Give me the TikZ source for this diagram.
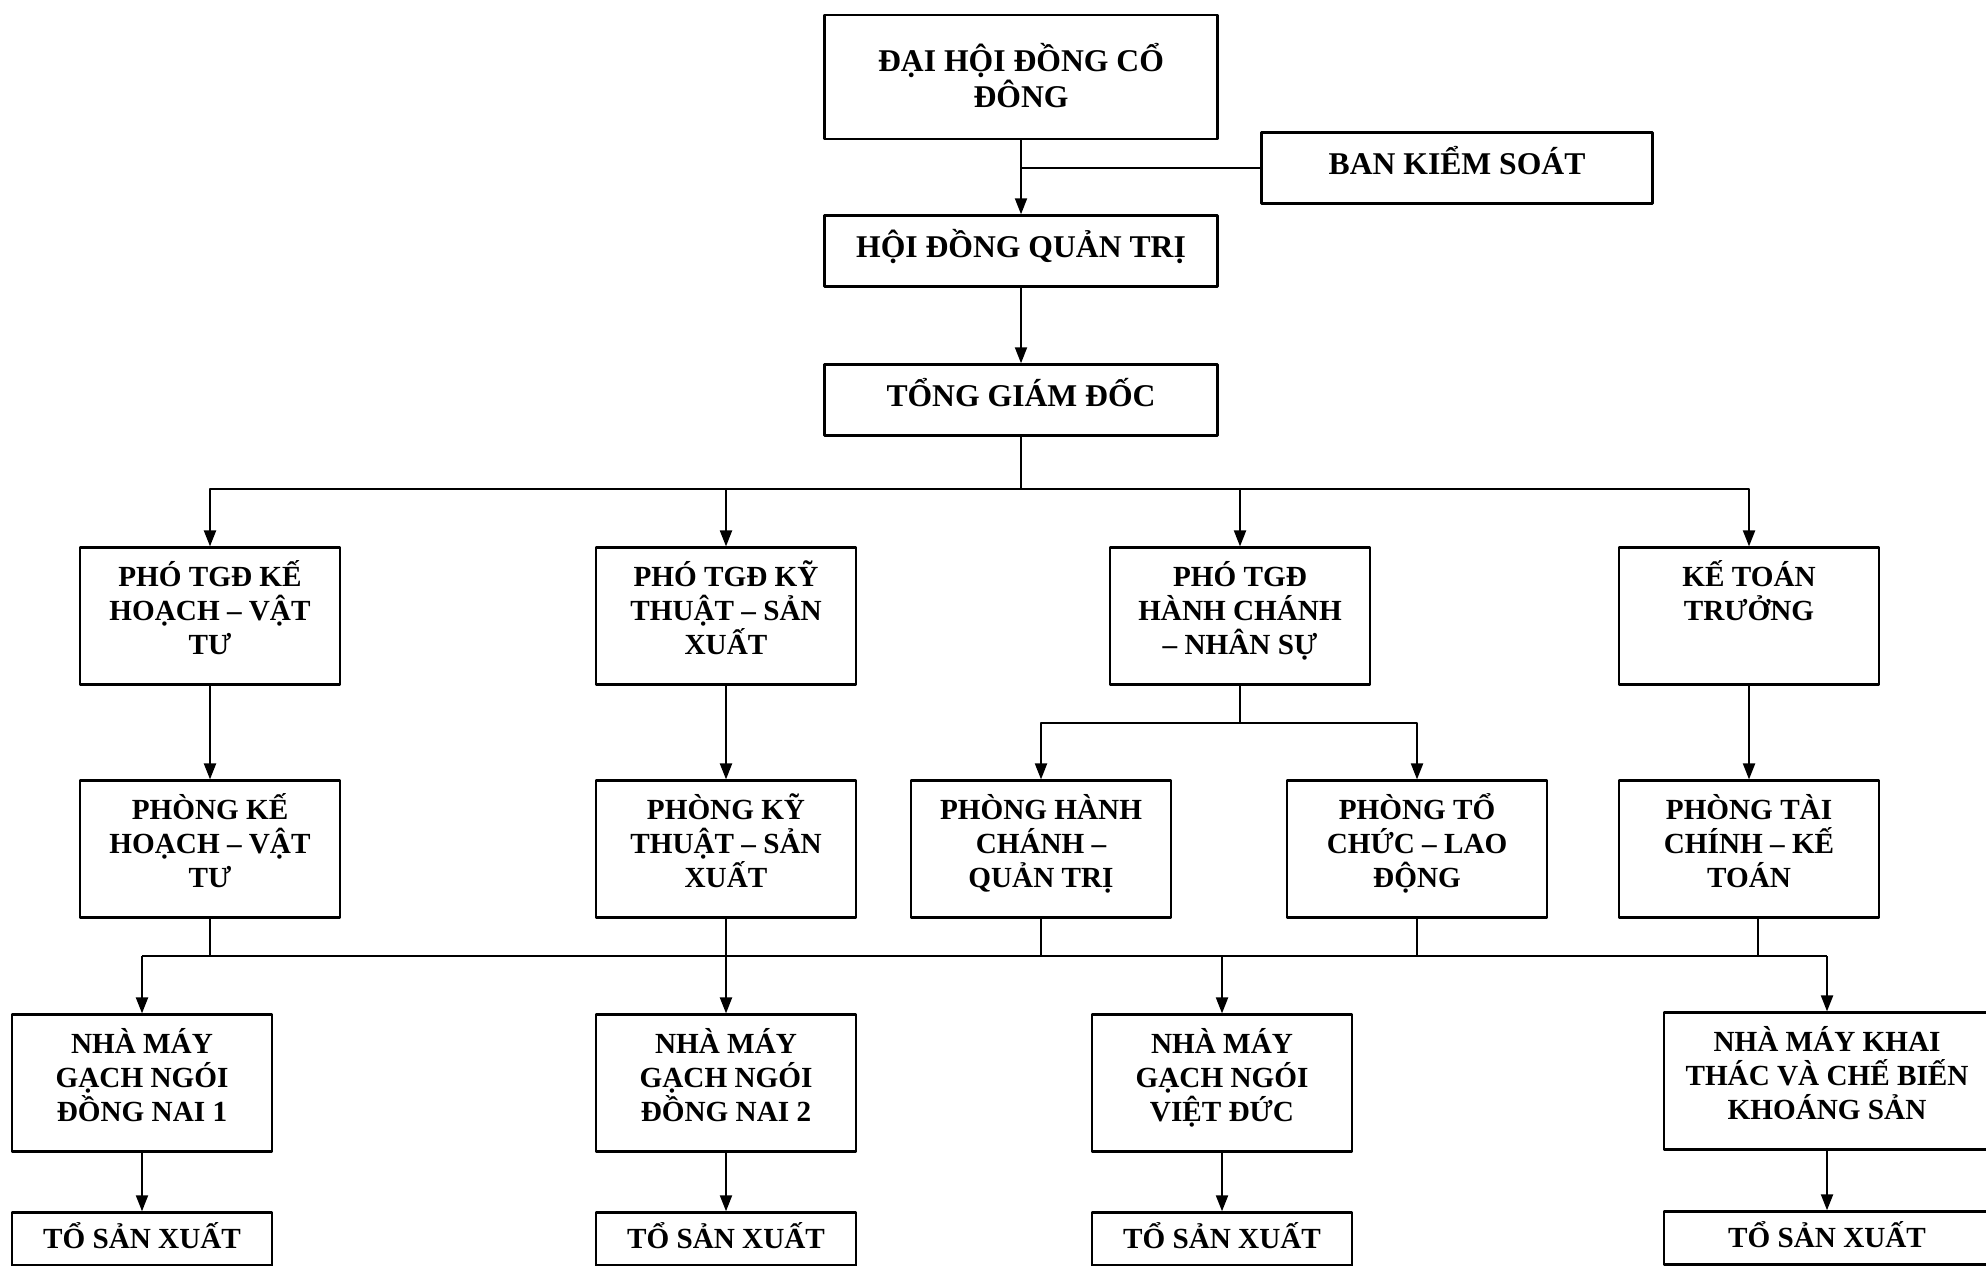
\documentclass[tikz,border=0pt]{standalone}
\usepackage{fontspec}
\setmainfont{Liberation Serif}
\usetikzlibrary{arrows.meta}
\newcommand{\tp}{\rule{0pt}{9pt}}
\newcommand{\bt}{\rule[-6.5pt]{0pt}{6.5pt}}
\begin{document}
\begin{tikzpicture}[x=0.01cm, y=-0.01cm, font=\bfseries\fontsize{8.3}{9.7}\selectfont, line join=round, semithick, >={Triangle[length=1.6mm,width=1.2mm]},
	unit/.style={draw, line width=0.7pt, align=center, inner sep=2pt, minimum width=2.6cm},
	top/.style={unit, font=\bfseries\fontsize{9}{10.4}\selectfont, minimum width=3.93cm, minimum height=0.71cm},
	head/.style={top, text height=6.3pt, text depth=2.7pt},
	tall/.style={unit, minimum height=1.35cm},
	team/.style={unit, minimum height=0.53cm, text height=6.5pt, text depth=1pt}]
			\useasboundingbox (0,0) rectangle (1986,1265);
			\node[top, minimum height=1.24cm] (dhcd) at (1021,77) {\rule{0pt}{9.5pt}ĐẠI HỘI ĐỒNG CỔ\\ĐÔNG\rule[-2.4pt]{0pt}{2.4pt}};
			\node[head, minimum width=3.91cm] (bks) at (1457,168) {BAN KIỂM SOÁT};
			\node[head] (hdqt) at (1021,251) {HỘI ĐỒNG QUẢN TRỊ};
			\node[head] (tgd) at (1021,400) {TỔNG GIÁM ĐỐC};
			\node[tall] (ptkh) at (210,616) {\tp PHÓ TGĐ KẾ\\HOẠCH – VẬT\\TƯ\bt};
			\node[tall] (ptkt) at (726,616) {\tp PHÓ TGĐ KỸ\\THUẬT – SẢN\\XUẤT\bt};
			\node[tall] (pths) at (1240,616) {\tp PHÓ TGĐ\\HÀNH CHÁNH\\– NHÂN SỰ\bt};
			\node[tall] (ktt) at (1749,616) {\tp KẾ TOÁN\\TRƯỞNG\\\bt};
			\node[tall] (pkh) at (210,849) {\tp PHÒNG KẾ\\HOẠCH – VẬT\\TƯ\bt};
			\node[tall] (pkt) at (726,849) {\tp PHÒNG KỸ\\THUẬT – SẢN\\XUẤT\bt};
			\node[tall] (phc) at (1041,849) {\tp PHÒNG HÀNH\\CHÁNH –\\QUẢN TRỊ\bt};
			\node[tall] (ptc) at (1417,849) {\tp PHÒNG TỔ\\CHỨC – LAO\\ĐỘNG\bt};
			\node[tall] (ptk) at (1749,849) {\tp PHÒNG TÀI\\CHÍNH – KẾ\\TOÁN\bt};
			\node[tall] (nm1) at (142,1083) {\tp NHÀ MÁY\\GẠCH NGÓI\\ĐỒNG NAI 1\bt};
			\node[tall] (nm2) at (726,1083) {\tp NHÀ MÁY\\GẠCH NGÓI\\ĐỒNG NAI 2\bt};
			\node[tall] (nm3) at (1222,1083) {\tp NHÀ MÁY\\GẠCH NGÓI\\VIỆT ĐỨC\bt};
			\node[tall, minimum width=3.26cm] (nm4) at (1827,1081) {\tp NHÀ MÁY KHAI\\THÁC VÀ CHẾ BIẾN\\KHOÁNG SẢN\bt};
			\node[team] (sx1) at (142,1239) {TỔ SẢN XUẤT};
			\node[team] (sx2) at (726,1239) {TỔ SẢN XUẤT};
			\node[team] (sx3) at (1222,1239) {TỔ SẢN XUẤT};
			\node[team, minimum width=3.26cm] (sx4) at (1827,1238) {TỔ SẢN XUẤT};
			\coordinate (fork) at (1021,489);
			\coordinate (hcns) at (1240,723);
			\coordinate (bus) at (0,956);
			\draw[->] (dhcd.south) -- (hdqt.north);
			\draw (bks.west) -- (bks.west -| dhcd.south);
			\draw[->] (hdqt.south) -- (tgd.north);
			\draw (tgd.south) -- (fork);
			\foreach \n in {ptkh,ptkt,pths,ktt} \draw[->] (fork) -| (\n.north);
			\draw[->] (ptkh.south) -- (pkh.north);
			\draw[->] (ptkt.south) -- (pkt.north);
			\draw[->] (ktt.south) -- (ptk.north);
			\draw (pths.south) -- (hcns);
			\foreach \n in {phc,ptc} \draw[->] (hcns) -| (\n.north);
			\foreach \n in {pkh,pkt,phc,ptc} \draw (\n.south) -- (\n.south |- bus);
			\draw ([xshift=0.09cm]ptk.south) -- ([xshift=0.09cm]ptk.south |- bus);
			\draw (nm1.north |- bus) -- (nm4.north |- bus);
			\foreach \n in {nm1,nm2,nm3,nm4} \draw[->] (\n.north |- bus) -- (\n.north);
			\foreach \a/\b in {nm1/sx1,nm2/sx2,nm3/sx3,nm4/sx4} \draw[->] (\a.south) -- (\b.north);
\end{tikzpicture}
\end{document}
